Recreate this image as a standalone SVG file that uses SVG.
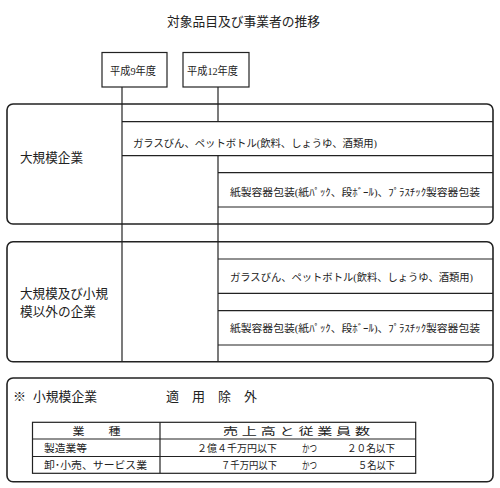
<svg xmlns="http://www.w3.org/2000/svg" width="500" height="488" viewBox="0 0 500 488">
<style>
text{font-family:"Liberation Serif","Noto Sans CJK JP",serif;fill:#222;}
.big{fill:#fff;stroke:#222;stroke-width:1.6;}
.hdr{fill:#fff;stroke:#222;stroke-width:1.2;}
.ln{stroke:#222;stroke-width:1.2;fill:none;}
.t13{font-size:13px;}
.t11{font-size:11px;}
.t10{font-size:10.5px;}
</style>
<rect width="500" height="488" fill="#fff"/>
<text id="title" x="167" y="26" class="t13" textLength="153" lengthAdjust="spacingAndGlyphs">対象品目及び事業者の推移</text>

<g id="node-h9">
<rect class="hdr" x="102" y="52.5" width="65" height="34.5"/>
<text x="110" y="75" class="t11" textLength="46" lengthAdjust="spacingAndGlyphs">平成9年度</text>
</g>
<g id="node-h12">
<rect class="hdr" x="183" y="52.5" width="66" height="34.5"/>
<text x="187" y="75" class="t11" textLength="51" lengthAdjust="spacingAndGlyphs">平成12年度</text>
</g>

<g id="node-large">
<rect class="big" x="7" y="104" width="486" height="120" rx="6"/>
<text x="20" y="162" class="t13" textLength="63" lengthAdjust="spacingAndGlyphs">大規模企業</text>
<line class="ln" x1="122" y1="121.7" x2="493" y2="121.7"/>
<line class="ln" x1="122" y1="155.7" x2="493" y2="155.7"/>
<line class="ln" x1="218" y1="172.7" x2="493" y2="172.7"/>
<line class="ln" x1="218" y1="207" x2="493" y2="207"/>
<text x="133" y="147" class="t10" textLength="244" lengthAdjust="spacingAndGlyphs">ガラスびん、ペットボトル(飲料、しょうゆ、酒類用)</text>
<text x="230" y="195.5" class="t10" textLength="250" lengthAdjust="spacingAndGlyphs">紙製容器包装(紙ﾊﾟｯｸ、段ﾎﾞｰﾙ)、ﾌﾟﾗｽﾁｯｸ製容器包装</text>
</g>

<g id="node-other">
<rect class="big" x="7" y="241.7" width="486" height="120" rx="6"/>
<text x="20" y="297.5" class="t13" textLength="88" lengthAdjust="spacingAndGlyphs">大規模及び小規</text>
<text x="20" y="316" class="t13" textLength="76" lengthAdjust="spacingAndGlyphs">模以外の企業</text>
<line class="ln" x1="218" y1="259" x2="493" y2="259"/>
<line class="ln" x1="218" y1="293.3" x2="493" y2="293.3"/>
<line class="ln" x1="218" y1="310.7" x2="493" y2="310.7"/>
<line class="ln" x1="218" y1="345" x2="493" y2="345"/>
<text x="230" y="280.5" class="t10" textLength="243" lengthAdjust="spacingAndGlyphs">ガラスびん、ペットボトル(飲料、しょうゆ、酒類用)</text>
<text x="230" y="332" class="t10" textLength="250" lengthAdjust="spacingAndGlyphs">紙製容器包装(紙ﾊﾟｯｸ、段ﾎﾞｰﾙ)、ﾌﾟﾗｽﾁｯｸ製容器包装</text>
</g>

<g id="connectors">
<line class="ln" x1="122" y1="87" x2="122" y2="361.7"/>
<line class="ln" x1="218" y1="87" x2="218" y2="121.7"/>
<line class="ln" x1="218" y1="155.7" x2="218" y2="361.7"/>
</g>

<g id="node-small">
<rect class="big" x="7" y="378" width="486" height="103.7" rx="6"/>
<text x="13" y="401" class="t13">※</text>
<text x="33" y="401" class="t13" textLength="64" lengthAdjust="spacingAndGlyphs">小規模企業</text>
<text x="166" y="401" class="t13" textLength="91" lengthAdjust="spacingAndGlyphs">適　用　除　外</text>
<rect class="ln" x="32.5" y="422.3" width="383.2" height="51"/>
<line class="ln" x1="160" y1="422.3" x2="160" y2="473.3"/>
<line class="ln" x1="32.5" y1="439" x2="415.7" y2="439"/>
<line class="ln" x1="32.5" y1="456.5" x2="415.7" y2="456.5"/>
<text x="72.5" y="434.5" class="t10" textLength="48" lengthAdjust="spacingAndGlyphs">業　　種</text>
<text x="223" y="434.5" class="t10" textLength="147" lengthAdjust="spacingAndGlyphs">売 上 高 と 従 業 員 数</text>
<text x="44" y="452" class="t10" textLength="43" lengthAdjust="spacingAndGlyphs">製造業等</text>
<text x="197" y="452" class="t10" textLength="80" lengthAdjust="spacingAndGlyphs">２億４千万円以下</text>
<text x="302" y="452" class="t10" textLength="15" lengthAdjust="spacingAndGlyphs">かつ</text>
<text x="347" y="452" class="t10" textLength="48" lengthAdjust="spacingAndGlyphs">２０名以下</text>
<text x="44" y="469" class="t10" textLength="103" lengthAdjust="spacingAndGlyphs">卸･小売、サービス業</text>
<text x="221" y="469" class="t10" textLength="56" lengthAdjust="spacingAndGlyphs">７千万円以下</text>
<text x="302" y="469" class="t10" textLength="15" lengthAdjust="spacingAndGlyphs">かつ</text>
<text x="358" y="469" class="t10" textLength="37" lengthAdjust="spacingAndGlyphs">５名以下</text>
</g>
</svg>
